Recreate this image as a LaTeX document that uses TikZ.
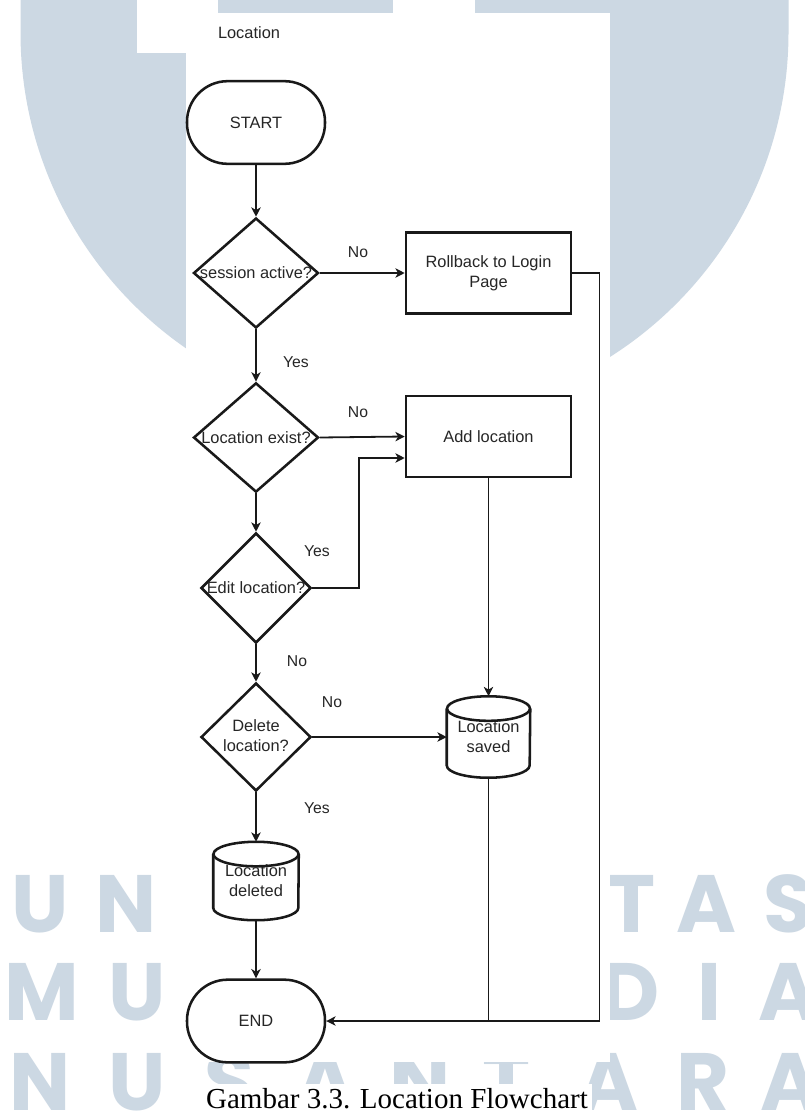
\documentclass[tikz,border=0pt]{standalone}
\usepackage{fontspec}
\usetikzlibrary{arrows.meta,shapes.geometric,calc}
\newfontfamily\arialfont{Liberation Sans}
\newfontfamily\capfont{Liberation Serif}
\newfontfamily\wmfont{Poppins}
\definecolor{wm}{RGB}{204,216,227}

% cylinder (data store) drawn around a named node:
% #1 node, #2 half width, #3 cap radius (pt), #4 cap radius (px units)
\newcommand\drawcyl[4]{%
  \draw[shapeline] ($(#1.north west)+(0,#4)$) -- ($(#1.south west)+(0,-#4)$)
     arc[start angle=180, end angle=360, x radius=#2, y radius=#3]
     -- ($(#1.north east)+(0,#4)$);
  \draw[shapeline] ($(#1.north)+(0,#4)$) ellipse [x radius=#2, y radius=#3];
}

\begin{document}
\begin{tikzpicture}[x=0.75pt,y=-0.75pt,
  every node/.style={font=\arialfont\fontsize{12.3}{15}\selectfont, text=black!85, align=center},
  shapeline/.style={draw=black!90, line width=1.9pt},
  terminal/.style={shapeline, rectangle, rounded corners=30.5pt, minimum width=103.5pt, minimum height=62pt, inner sep=0pt},
  decision/.style={shapeline, diamond, inner sep=0pt},
  process/.style={shapeline, rectangle, minimum width=123.75pt, minimum height=61pt, inner sep=0pt},
  store/.style={rectangle, inner sep=0pt},
  conn/.style={draw=black!90, line width=1.1pt},
  arr/.style={conn, line width=1.35pt, -{Stealth[length=7pt,width=7pt,inset=2pt]}},
  longarr/.style={conn, -{Stealth[length=7pt,width=7pt,inset=2pt]}},
  lbl/.style={inner sep=0pt, font=\arialfont\fontsize{11.8}{14}\selectfont},
  wmletter/.style={text=wm, font=\wmfont\bfseries\fontsize{61}{61}\selectfont, anchor=base, inner sep=0pt},
]
\useasboundingbox (0,0) rectangle (804,1113);
\fill[white] (0,0) rectangle (804,1113);

% ---- background watermark ----
\begin{scope}
\clip (0,0) rectangle (804,1113);
\fill[wm] (20.5,-10) -- (20.5,32.5) arc[start angle=180, end angle=360, radius=288pt] -- (788.5,-10) -- cycle;
% row 1
\node[wmletter] (w1a) at (40,932) {U};
\node[wmletter] (w1b) at (126,932) {N};
\node[wmletter] (w1c) at (632,932) {T};
\node[wmletter] (w1d) at (706,932) {A};
\node[wmletter] (w1e) at (788,932) {S};
% row 2
\node[wmletter] (w2a) at (42,1020) {M};
\node[wmletter] (w2b) at (137,1020) {U};
\node[wmletter] (w2c) at (630,1020) {D};
\node[wmletter] (w2d) at (709,1020) {I};
\node[wmletter] (w2e) at (788,1020) {A};
% row 3
\node[wmletter] (w3a) at (40,1110) {N};
\node[wmletter] (w3b) at (137,1110) {U};
\node[wmletter] (w3c) at (230,1110) {S};
\node[wmletter] (w3d) at (325,1110) {A};
\node[wmletter] (w3e) at (420,1110) {N};
\node[wmletter] (w3f) at (507,1110) {T};
\node[wmletter] (w3g) at (608,1110) {A};
\node[wmletter] (w3h) at (703,1110) {R};
\node[wmletter] (w3i) at (790,1110) {A};
% white paper areas
\fill[white] (137,-1) rectangle (218,53);
\fill[white] (393,-1) rectangle (475,13);
\fill[white] (186,13) rectangle (610,1062);
\fill[white] (203,1084) rectangle (592,1114);
\end{scope}

% ---- flowchart ----
\node[lbl, font=\arialfont\fontsize{12.3}{15}\selectfont] (title) at (249,33) {Location};

\node[terminal] (start) at (256,122.5) {START};
\node[decision, minimum width=93.75pt, minimum height=82.5pt] (q1) at (256,273) {\makebox[0pt]{session active?}};
\node[process] (roll) at (488.5,273) {Rollback to Login\\Page};
\node[decision, minimum width=93.75pt, minimum height=82pt] (q2) at (256,437.5) {\makebox[0pt]{Location exist?}};
\node[process] (add) at (488.5,436.5) {Add location};
\node[decision, minimum width=82.5pt, minimum height=82.5pt] (q3) at (256,588) {\makebox[0pt]{Edit location?}};
\node[decision, minimum width=82.5pt, minimum height=81pt] (q4) at (256,737) {\makebox[0pt]{\begin{tabular}{@{}c@{}}Delete\\location?\end{tabular}}};
\node[store, minimum width=62.25pt, minimum height=60.75pt] (saved) at (488.5,737) {Location\\saved};
\node[store, minimum width=63.75pt, minimum height=58.5pt] (deleted) at (256,881) {Location\\deleted};
\node[terminal] (end) at (256,1021) {END};

\drawcyl{saved}{31.1pt}{9.2pt}{12.3}
\drawcyl{deleted}{31.9pt}{9.2pt}{12.3}

% connectors
\draw[arr] (start.south) -- (q1.north);
\draw[arr] (q1.east) -- (roll.west);
\draw[arr] (q1.south) -- (q2.north);
\draw[arr] (q2.east) -- (add.west);
\draw[arr] (q2.south) -- (q3.north);
\draw[arr] (q3.east) -- ++(47,0) |- ($(add.west)+(0,21.5)$);
\draw[arr] (q3.south) -- (q4.north);
\draw[arr] (q4.east) -- (saved.west);
\draw[longarr] (add.south) -- (saved.north);
\draw[arr] (q4.south) -- (deleted.north);
\draw[arr] (deleted.south) -- (end.north);
\draw[longarr] (roll.east) -- ++(27,0) |- (end.east);
\draw[conn] (saved.south) -- (saved.south |- end.east);

% branch labels
\node[lbl] (no1) at (358,252) {No};
\node[lbl] (yes1) at (296,362) {Yes};
\node[lbl] (no2) at (358,412) {No};
\node[lbl] (yes2) at (317,551) {Yes};
\node[lbl] (no3) at (297,661) {No};
\node[lbl] (no4) at (332,702) {No};
\node[lbl] (yes3) at (317,808) {Yes};

% caption
\node[font=\capfont\fontsize{21.75}{22}\selectfont, text=black, anchor=base, inner sep=0pt] (caption) at (397,1108) {Gambar 3.3. Location Flowchart};
\end{tikzpicture}
\end{document}
